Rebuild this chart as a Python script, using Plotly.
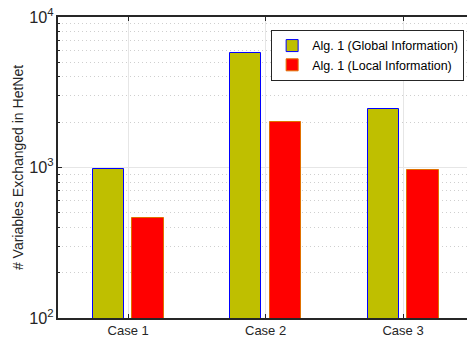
import plotly.graph_objects as go

# Scenario data
cases = ["Case 1", "Case 2", "Case 3"]
x_pos = [1, 2, 3]
global_info = [970, 5800, 2450]   # Alg. 1 (Global Information)
local_info = [460, 2000, 960]     # Alg. 1 (Local Information)

series_names = ["Alg. 1 (Global Information)", "Alg. 1 (Local Information)"]
y_title = "# Variables Exchanged in HetNet"

FONT = "Liberation Sans, Arial, Helvetica, sans-serif"
AXIS_COLOR = "#262626"

fig = go.Figure()
fig.add_trace(go.Bar(
    x=x_pos, y=global_info, name=series_names[0],
    width=0.228, offset=-0.258,
    marker=dict(color="#BFBF00", line=dict(color="#0000FF", width=1)),
))
fig.add_trace(go.Bar(
    x=x_pos, y=local_info, name=series_names[1],
    width=0.228, offset=0.03,
    marker=dict(color="#FF0000", line=dict(color="#E07000", width=1)),
))

fig.update_layout(
    width=467, height=337,
    margin=dict(l=58, r=0, t=17, b=19, autoexpand=False),
    paper_bgcolor="white", plot_bgcolor="white",
    font=dict(family=FONT, size=13, color=AXIS_COLOR),
    showlegend=True,
    legend=dict(
        x=0.993, y=0.957, xanchor="right", yanchor="top",
        bgcolor="white", bordercolor=AXIS_COLOR, borderwidth=1,
        font=dict(family=FONT, size=12.5, color="black"),
        tracegroupgap=0, itemwidth=30,
    ),
    bargap=0,
)

fig.update_xaxes(
    range=[0.49, 3.465],
    tickmode="array", tickvals=x_pos, ticktext=cases,
    ticks="inside", ticklen=4, tickcolor=AXIS_COLOR,
    showline=True, linecolor=AXIS_COLOR, linewidth=1.5, mirror="ticks",
    showgrid=True, gridcolor="#E6E6E6", gridwidth=1,
    zeroline=False,
    tickfont=dict(family=FONT, size=13, color=AXIS_COLOR),
)

fig.update_yaxes(
    type="log", range=[2, 4], dtick=1,
    exponentformat="power", showexponent="all",
    ticks="inside", ticklen=4, tickcolor=AXIS_COLOR,
    showline=True, linecolor=AXIS_COLOR, linewidth=1.5,
    showgrid=True, gridcolor="#E6E6E6", gridwidth=1,
    minor=dict(ticks="inside", ticklen=2, tickcolor=AXIS_COLOR,
               showgrid=True, gridcolor="#CFCFCF", griddash="1px,3px", gridwidth=1),
    zeroline=False,
    title=dict(text=y_title, font=dict(family=FONT, size=14, color=AXIS_COLOR), standoff=2),
    tickfont=dict(family=FONT, size=13, color=AXIS_COLOR),
)

fig.write_html("out.html")
